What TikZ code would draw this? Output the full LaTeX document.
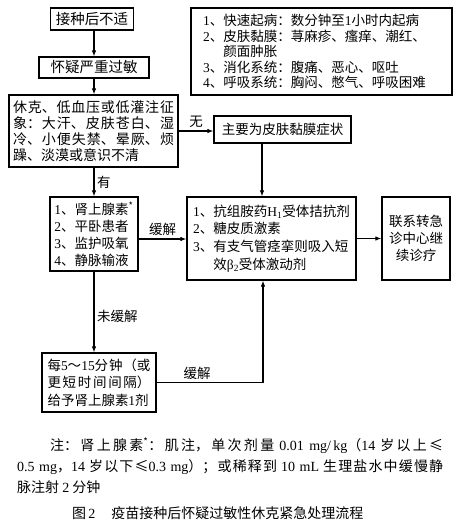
\documentclass[tikz,border=0pt]{standalone}
\usepackage{fontspec}
\setmainfont{Noto Sans CJK SC}
\newfontfamily\lat{Liberation Serif}
\usetikzlibrary{arrows.meta}
\XeTeXlinebreaklocale "zh"
\XeTeXlinebreakskip=0pt plus 2pt
\newcommand\myfs[2]{\fontsize{#1pt}{#2pt}\selectfont}
\newcommand\dg[1]{{\lat #1}}
\tikzset{
  box/.style={draw, line width=1.2pt, inner sep=0pt, align=center},
  arr/.style={-{Latex[length=6pt,width=4.5pt]}, line width=1.1pt},
  lbl/.style={font=\myfs{13.5}{16}, inner sep=2.5pt}
}
\begin{document}
\begin{tikzpicture}[x=1pt,y=-1pt]
\fill[white] (0,0) rectangle (462,525);
\useasboundingbox (0,0) rectangle (462,525);

\node[box, minimum width=83pt, minimum height=22pt, font=\myfs{14.5}{17}] (b1) at (92,19) {接种后不适};
\node[box, minimum width=110pt, minimum height=21pt, font=\myfs{14.5}{17}] (b2) at (94,67.5) {怀疑严重过敏};
\node[box, minimum width=169pt, minimum height=72pt, text width=161pt, align=justify, font=\myfs{14}{16}] (b3) at (93.5,131)
  {休克、低血压或低灌注征\linebreak 象：大汗、皮肤苍白、湿\linebreak 冷、小便失禁、晕厥、烦\linebreak 躁、淡漠或意识不清};

\node[box, text width=237pt, inner xsep=12pt, minimum height=87pt, align=left, font=\myfs{13.5}{15.5}] (tr) at (321.5,51.5)
  {\dg{1}、快速起病：数分钟至\dg{1}小时内起病\\
   \dg{2}、皮肤黏膜：荨麻疹、瘙痒、潮红、\\
   \phantom{\dg{2}、}颜面肿胀\\
   \dg{3}、消化系统：腹痛、恶心、呕吐\\
   \dg{4}、呼吸系统：胸闷、憋气、呼吸困难};

\node[box, minimum width=137pt, minimum height=27pt, font=\myfs{13.5}{16}] (b8) at (282.5,129.5) {主要为皮肤黏膜症状};

\node[box, minimum width=88pt, minimum height=74pt, align=left, font=\myfs{13.5}{17}] (b4) at (94,234)
  {\dg{1}、肾上腺素\textsuperscript{*}\\\dg{2}、平卧患者\\\dg{3}、监护吸氧\\\dg{4}、静脉输液};

\node[box, minimum width=169pt, minimum height=83pt, align=left, font=\myfs{13.5}{17.7}] (b5) at (271.5,238.5)
  {\dg{1}、抗组胺药\dg{H}\textsubscript{\dg{1}}受体拮抗剂\\
   \dg{2}、糖皮质激素\\
   \dg{3}、有支气管痉挛则吸入短\\
   \phantom{\dg{3}、}效\dg{β}\textsubscript{\dg{2}}受体激动剂};

\node[box, minimum width=68pt, minimum height=83pt, font=\myfs{13.5}{17}] (b6) at (416,238.5) {联系转急\\诊中心继\\续诊疗};

\node[box, minimum width=114pt, minimum height=59pt, text width=103pt, align=justify, font=\myfs{13.5}{17.5}] (b7) at (99,382.5)
  {每\dg{5}～\dg{15}分钟（或\linebreak 更短时间间隔）\linebreak 给予肾上腺素\dg{1}剂};

\coordinate (vx) at (262,0);
\coordinate (vx2) at (263,0);
\coordinate (hy) at (0,239);

\draw[arr] (b1.south -| b2.north) -- (b2.north);
\draw[arr] (b2.south) -- (b2.south |- b3.north);
\draw[arr] (b3.east) -- node[lbl, above]{无} (b3.east -| b8.west);
\draw[arr] (b8.south -| vx) -- (b5.north -| vx);
\draw[arr] (b3.south -| b4.north) -- node[lbl, right]{有} (b4.north);
\draw[arr] (b4.east |- hy) -- node[lbl, above]{缓解} (b5.west |- hy);
\draw[arr] (b5.east) -- (b6.west);
\draw[arr] (b4.south) -- node[lbl, right, pos=.56]{未缓解} (b4.south |- b7.north);
\draw[arr] (b7.east) -| node[lbl, above, pos=.19]{缓解} (b5.south -| vx2);

\node[anchor=north west, text width=426pt, align=justify, font=\myfs{14}{21}, inner sep=0pt] (note) at (17,437)
  {\hspace*{33pt}注：肾上腺素\textsuperscript{*}：肌注，单次剂量 \dg{0.01 mg/kg}（\dg{14} 岁以上≤\linebreak
   \dg{0.5 mg}，\dg{14} 岁以下≤\dg{0.3 mg}）；或稀释到 \dg{10 mL} 生理盐水中缓慢静\linebreak
   脉注射 \dg{2} 分钟};

\node[font=\myfs{14}{16}, inner sep=0pt] (cap) at (231,513)
  {\makebox[318pt][s]{图\,\dg{2}\hspace{16pt}疫苗接种后怀疑过敏性休克紧急处理流程}};
\end{tikzpicture}
\end{document}
